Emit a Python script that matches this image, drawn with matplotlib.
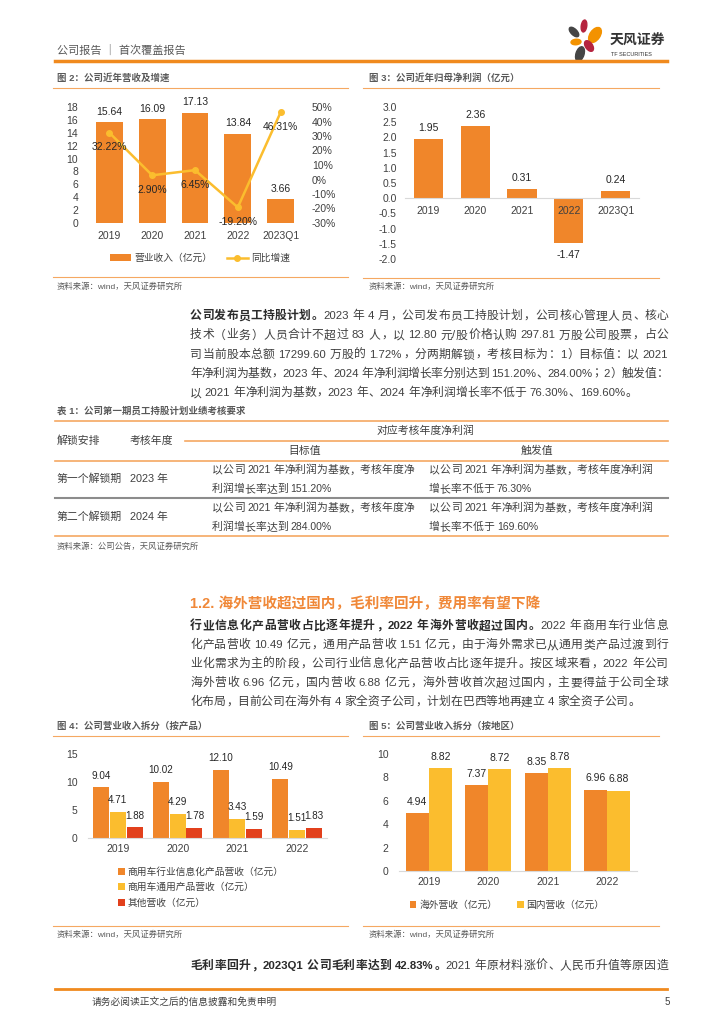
import re
import numpy as np
import matplotlib
matplotlib.use('Agg')
import matplotlib.pyplot as plt
from matplotlib.lines import Line2D
from matplotlib.patches import Ellipse

plt.rcParams['font.family'] = ['Liberation Sans', 'Noto Sans CJK SC']

# ---- data ----
cats2 = ['2019', '2020', '2021', '2022', '2023Q1']
revenue = [15.64, 16.09, 17.13, 13.84, 3.66]
rev_yoy = [32.22, 2.90, 6.45, -19.20, 46.31]

cats3 = ['2019', '2020', '2021', '2022', '2023Q1']
net_profit = [1.95, 2.36, 0.31, -1.47, 0.24]

cats4 = ['2019', '2020', '2021', '2022']
rev_industry = [9.04, 10.02, 12.10, 10.49]
rev_general = [4.71, 4.29, 3.43, 1.51]
rev_other = [1.88, 1.78, 1.59, 1.83]

cats5 = ['2019', '2020', '2021', '2022']
rev_overseas = [4.94, 7.37, 8.35, 6.96]
rev_domestic = [8.82, 8.72, 8.78, 6.88]

ORANGE = '#F0862A'
YELLOW = '#FBBD2E'
RED = '#E2401C'
TXT = '#404040'
GRAY = '#595959'
RULE = '#F5A862'
HEAD = '#F08A1E'

W, H = 724, 1024
fig = plt.figure(figsize=(7.24, 10.24), dpi=100)
renderer = fig.canvas.get_renderer()


def fx(x):
    return x / W


def fy(y):
    return 1 - y / H


def text(x, y, s, size=7, color=TXT, **kw):
    kw.setdefault('va', 'center')
    return fig.text(fx(x), fy(y), s, fontsize=size, color=color, **kw)


def hline(x0, x1, y, color=RULE, lw=0.8):
    fig.add_artist(Line2D([fx(x0), fx(x1)], [fy(y), fy(y)], color=color, lw=lw))


def add_ax(x0, y0, x1, y1):
    return fig.add_axes([fx(x0), fy(y1), (x1 - x0) / W, (y1 - y0) / H])


PUNCT_L = set('，。、：；）')
PUNCT_R = set('（')


def para_line(x0, x1, y, parts, size=8.5, justify=True):
    # lay out one line of mixed CJK / latin text, stretched to x1 if justify
    em = size * 100 / 72
    base = fy(y + 0.36 * em)
    items = []
    for s, weight, color in parts:
        for t in re.findall(r'[A-Za-z0-9.%/]+| |.', s):
            if t == ' ':
                items.append((None, 0.25 * em, None))
                continue
            if t.isascii():
                art = fig.text(fx(x0), base, t, fontsize=size * 0.96, color=color,
                               weight=weight, ha='left', va='baseline')
                items.append((art, art.get_window_extent(renderer).width, 'a'))
            else:
                art = fig.text(fx(x0), base, t, fontsize=size, color=color,
                               weight=weight, ha='left', va='baseline')
                items.append((art, em, t))
    total = sum(w for _, w, _ in items)
    gap = (x1 - x0 - total) / (len(items) - 1) if justify else 0
    x = x0
    for art, w, kind in items:
        if art is not None:
            if kind == 'a':
                art.set_x(fx(x))
            elif kind in PUNCT_L:
                art.set_x(fx(x + 0.08 * em))
            elif kind in PUNCT_R:
                art.set_ha('right')
                art.set_x(fx(x + w - 0.08 * em))
            else:
                art.set_ha('center')
                art.set_x(fx(x + w / 2))
        x += w + gap


def style_axis(ax, xpad=5.8, ypad=7):
    for s in ax.spines.values():
        s.set_visible(False)
    ax.tick_params(axis='both', length=0, labelsize=7.5, colors=TXT)
    ax.tick_params(axis='x', pad=xpad)
    ax.tick_params(axis='y', pad=ypad)


# ---- header ----
text(57, 50, '公司报告 ｜ 首次覆盖报告', 8, GRAY)
hline(55, 667, 61, HEAD, 2.5)
logo = add_ax(562, 16, 612, 64)
logo.set_xlim(562, 612)
logo.set_ylim(64, 16)
logo.axis('off')
for cx, cy, w, h, a, c in [(584, 26, 5.5, 12, 8, '#B5243F'), (574, 32, 6, 12, -45, '#454545'),
                           (595, 35, 10, 17, 35, '#F39200'), (576, 42, 10, 5.5, -5, '#F39200'),
                           (589, 46, 7, 12, -35, '#B5243F'), (580, 54, 8, 15, 18, '#454545')]:
    logo.add_patch(Ellipse((cx, cy), w, h, angle=a, color=c))
text(610, 41, '天风证券', 10, '#333333', weight='bold')
text(611, 55, 'TF SECURITIES', 4, '#333333')

# ---- figure 2 ----
text(57, 78, '图 2：公司近年营收及增速', 6.8, GRAY, weight='bold')
hline(53, 348, 88)
x2 = np.arange(len(cats2))
ax2 = add_ax(88, 107, 302, 223)
bars2 = ax2.bar(x2, revenue, 0.63, color=ORANGE)
ax2.set_xlim(-0.5, 4.5)
ax2.set_ylim(0, 18)
ax2.set_yticks(range(0, 19, 2))
ax2.set_xticks(x2, cats2)
style_axis(ax2)
for i, v in enumerate(revenue):
    ax2.annotate(f'{v:.2f}', (i, v), xytext=(0, 7.5), textcoords='offset points',
                 ha='center', va='center', fontsize=7.5, color='#262626')
ax2b = ax2.twinx()
line2, = ax2b.plot(x2, rev_yoy, color=YELLOW, lw=1.8, marker='o', ms=4)
ax2b.set_ylim(-30, 50)
ax2b.set_yticks(range(-30, 51, 10), [f'{v}%' for v in range(-30, 51, 10)])
style_axis(ax2b)
for i, v in enumerate(rev_yoy):
    ax2b.annotate(f'{v:.2f}%', (i, v), xytext=(0, -10.5), textcoords='offset points',
                  ha='center', va='center', fontsize=7.5, color='#262626')
ax2b.legend([bars2, line2], ['营业收入（亿元）', '同比增速'], loc='center',
            bbox_to_anchor=(fx(200), fy(258)), bbox_transform=fig.transFigure,
            ncol=2, frameon=False, fontsize=7, handlelength=2.2, handleheight=0.6,
            columnspacing=1.5, handletextpad=0.3, borderpad=0, labelcolor=TXT)
hline(53, 348, 277)
text(57, 287, '资料来源：wind，天风证券研究所', 6, GRAY)

# ---- figure 3 ----
text(369, 78, '图 3：公司近年归母净利润（亿元）', 6.8, GRAY, weight='bold')
hline(363, 659, 88)
x3 = np.arange(len(cats3))
ax3 = add_ax(405, 107, 639, 259)
ax3.bar(x3, net_profit, 0.62, color=ORANGE)
ax3.set_xlim(-0.5, 4.5)
ax3.set_ylim(-2, 3)
ax3.set_yticks(np.arange(-2, 3.01, 0.5), [f'{v:.1f}' for v in np.arange(-2, 3.01, 0.5)])
ax3.set_xticks(x3, cats3)
style_axis(ax3, xpad=5.5, ypad=6)
ax3.spines['bottom'].set_visible(True)
ax3.spines['bottom'].set_position(('data', 0))
ax3.spines['bottom'].set_color('#D9D9D9')
for i, v in enumerate(net_profit):
    off = 8 if v >= 0 else -8.5
    ax3.annotate(f'{v:.2f}', (i, v), xytext=(0, off), textcoords='offset points',
                 ha='center', va='center', fontsize=7.5, color='#262626')
hline(363, 659, 278)
text(369, 287, '资料来源：wind，天风证券研究所', 6, GRAY)

# ---- paragraph 1 ----
B, N = 'bold', 'normal'
C1, C2 = '#2b2b2b', '#404040'
para1 = [
    [('公司发布员工持股计划。', B, C1), ('2023 年 4 月，公司发布员工持股计划，公司核心管理人员、核心', N, C2)],
    [('技术（业务）人员合计不超过 83 人，以 12.80 元/股价格认购 297.81 万股公司股票，占公', N, C2)],
    [('司当前股本总额 17299.60 万股的 1.72%，分两期解锁，考核目标为：1）目标值：以 2021', N, C2)],
    [('年净利润为基数，2023 年、2024 年净利润增长率分别达到 151.20%、284.00%；2）触发值：', N, C2)],
    [('以 2021 年净利润为基数，2023 年、2024 年净利润增长率不低于 76.30%、169.60%。', N, C2)],
]
for k, parts in enumerate(para1):
    para_line(190, 668, 315 + 19.2 * k, parts, justify=k < len(para1) - 1)

# ---- table 1 ----
text(57, 411, '表 1：公司第一期员工持股计划业绩考核要求', 6.8, GRAY, weight='bold')
hline(55, 668, 421, RULE, 1.2)
hline(185, 668, 441, RULE, 1.2)
hline(55, 668, 460.5, RULE, 1.2)
hline(55, 668, 498, '#8C8C8C', 1.5)
hline(55, 668, 536, RULE, 1.2)
TS = 7.8
text(57, 441, '解锁安排', TS, TXT)
text(130, 441, '考核年度', TS, TXT)
text(425, 431, '对应考核年度净利润', TS, TXT, ha='center')
text(305, 450.5, '目标值', TS, TXT, ha='center')
text(537, 450.5, '触发值', TS, TXT, ha='center')
rows = [('第一个解锁期', '2023 年', '151.20%', '76.30%', 479),
        ('第二个解锁期', '2024 年', '284.00%', '169.60%', 517)]
for name, yr, tgt, trig, yc in rows:
    text(57, yc, name, TS, TXT)
    text(130, yc, yr, TS, TXT)
    para_line(212, 420, yc - 9.5, [('以公司 2021 年净利润为基数，考核年度净', N, TXT)], TS, False)
    para_line(212, 420, yc + 9.5, [('利润增长率达到 ' + tgt, N, TXT)], TS, False)
    para_line(429, 660, yc - 9.5, [('以公司 2021 年净利润为基数，考核年度净利润', N, TXT)], TS, False)
    para_line(429, 660, yc + 9.5, [('增长率不低于 ' + trig, N, TXT)], TS, False)
text(57, 547, '资料来源：公司公告，天风证券研究所', 6, GRAY)

# ---- section 1.2 ----
text(190, 604, '1.2. 海外营收超过国内，毛利率回升，费用率有望下降', 10.5, '#F08838', weight='bold')
para2 = [
    [('行业信息化产品营收占比逐年提升，2022 年海外营收超过国内。', B, C1), ('2022 年商用车行业信息', N, C2)],
    [('化产品营收 10.49 亿元，通用产品营收 1.51 亿元，由于海外需求已从通用类产品过渡到行', N, C2)],
    [('业化需求为主的阶段，公司行业信息化产品营收占比逐年提升。按区域来看，2022 年公司', N, C2)],
    [('海外营收 6.96 亿元，国内营收 6.88 亿元，海外营收首次超过国内，主要得益于公司全球', N, C2)],
    [('化布局，目前公司在海外有 4 家全资子公司，计划在巴西等地再建立 4 家全资子公司。', N, C2)],
]
for k, parts in enumerate(para2):
    para_line(190, 668, 625 + 19 * k, parts, justify=k < len(para2) - 1)

# ---- figure 4 ----
text(57, 726, '图 4：公司营业收入拆分（按产品）', 6.8, GRAY, weight='bold')
hline(53, 348, 736)
x4 = np.arange(len(cats4))
ax4 = add_ax(88, 754, 327, 838)
b41 = ax4.bar(x4 - 0.28, rev_industry, 0.27, color=ORANGE)
b42 = ax4.bar(x4, rev_general, 0.27, color=YELLOW)
b43 = ax4.bar(x4 + 0.28, rev_other, 0.27, color=RED)
ax4.set_xlim(-0.5, 3.5)
ax4.set_ylim(0, 15)
ax4.set_yticks([0, 5, 10, 15])
ax4.set_xticks(x4, cats4)
style_axis(ax4, xpad=4.5, ypad=7.5)
ax4.spines['bottom'].set_visible(True)
ax4.spines['bottom'].set_color('#D9D9D9')
for off, vals in [(-0.28, rev_industry), (0, rev_general), (0.28, rev_other)]:
    for i, v in enumerate(vals):
        ax4.annotate(f'{v:.2f}', (i + off, v), xytext=(0, 8.5), textcoords='offset points',
                     ha='center', va='center', fontsize=7.1, color='#262626')
ax4.legend([b41, b42, b43], ['商用车行业信息化产品营收（亿元）', '商用车通用产品营收（亿元）', '其他营收（亿元）'],
           loc='upper left', bbox_to_anchor=(fx(113), fy(862)), bbox_transform=fig.transFigure,
           frameon=False, fontsize=7, handlelength=0.7, handleheight=0.7, labelspacing=0.55,
           handletextpad=0.3, borderpad=0, labelcolor=TXT)
hline(53, 348, 926)
text(57, 935, '资料来源：wind，天风证券研究所', 6, GRAY)

# ---- figure 5 ----
text(369, 726, '图 5：公司营业收入拆分（按地区）', 6.8, GRAY, weight='bold')
hline(363, 659, 736)
x5 = np.arange(len(cats5))
ax5 = add_ax(399, 754, 637, 871)
b51 = ax5.bar(x5 - 0.195, rev_overseas, 0.39, color=ORANGE)
b52 = ax5.bar(x5 + 0.195, rev_domestic, 0.39, color=YELLOW)
ax5.set_xlim(-0.5, 3.5)
ax5.set_ylim(0, 10)
ax5.set_yticks(range(0, 11, 2))
ax5.set_xticks(x5, cats5)
style_axis(ax5, xpad=4.5, ypad=7.5)
ax5.spines['bottom'].set_visible(True)
ax5.spines['bottom'].set_color('#D9D9D9')
for off, vals in [(-0.195, rev_overseas), (0.195, rev_domestic)]:
    for i, v in enumerate(vals):
        ax5.annotate(f'{v:.2f}', (i + off, v), xytext=(0, 8), textcoords='offset points',
                     ha='center', va='center', fontsize=7.5, color='#262626')
ax5.legend([b51, b52], ['海外营收（亿元）', '国内营收（亿元）'], loc='center',
           bbox_to_anchor=(fx(507), fy(905)), bbox_transform=fig.transFigure, ncol=2,
           frameon=False, fontsize=7, handlelength=0.7, handleheight=0.7,
           columnspacing=2.0, handletextpad=0.3, borderpad=0, labelcolor=TXT)
hline(363, 659, 926)
text(369, 935, '资料来源：wind，天风证券研究所', 6, GRAY)

# ---- closing line and footer ----
para_line(190, 668, 965, [('毛利率回升，2023Q1 公司毛利率达到 42.83%。', B, C1),
                          ('2021 年原材料涨价、人民币升值等原因造', N, C2)])
hline(55, 667, 989, HEAD, 2)
text(92, 1002, '请务必阅读正文之后的信息披露和免责申明', 7, TXT)
text(665, 1002, '5', 7, TXT)

fig.savefig('out.png', dpi=100)
